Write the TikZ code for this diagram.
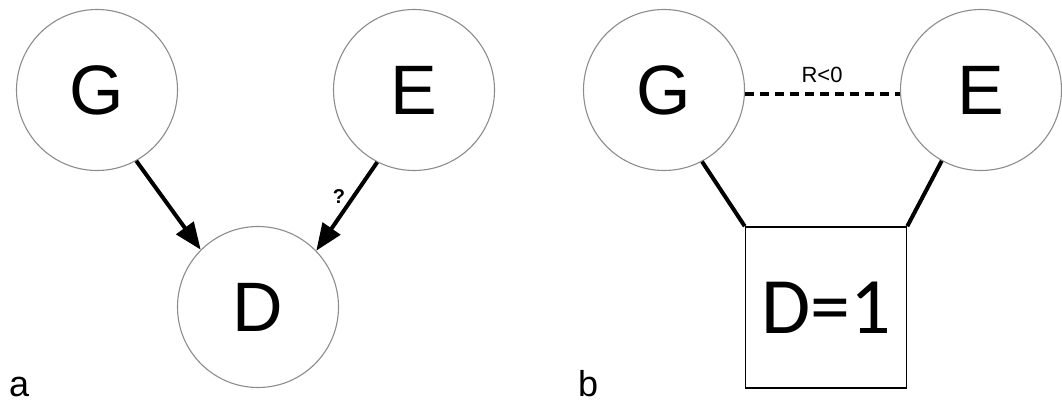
\documentclass[tikz,border=0pt]{standalone}
\usepackage{fontspec}
\setmainfont{Liberation Sans}
\newfontfamily\carl{Carlito}
\usetikzlibrary{arrows.meta}
\definecolor{circgray}{RGB}{140,140,140}
\begin{document}
\begin{tikzpicture}[x=1pt,y=-1pt,
  var/.style={circle,draw=circgray,line width=1.1pt,minimum size=161pt,inner sep=0pt,
    font=\fontsize{70}{70}\selectfont},
  arr/.style={line width=4pt,-{Triangle[length=27pt,width=21pt]}},
  link/.style={line width=4pt},
  panellabel/.style={font=\fontsize{36}{36}\selectfont,anchor=base west,inner sep=0pt}]
\useasboundingbox (0,0) rectangle (1062,404);
% panel a
\node[var] (G) at (97,90) {G};
\node[var] (E) at (414,90) {E};
\node[var] (D) at (258,307) {D};
\draw[arr] (G.-61.5) -- (D.135);
\draw[arr] (E.243) -- (D.44.5);
\node[font=\bfseries\fontsize{20}{20}\selectfont,inner sep=0pt] (q) at (339,197) {?};
\node[panellabel] (la) at (9,396) {a};
% panel b
\node[var] (Gb) at (664,90) {G};
\node[var] (Eb) at (981,90) {E};
\node[draw,line width=1.6pt,minimum width=161pt,minimum height=161pt,inner sep=0pt,
  font=\carl\fontsize{80}{80}\selectfont] (Db) at (826,307.5) {D=1};
\draw[line width=4pt,dash pattern=on 9pt off 6pt] (Gb.-3) -- (Eb.183);
\node[font=\fontsize{22}{22}\selectfont,inner sep=0pt] (r) at (822,75) {R<0};
\draw[link] (Gb.-62) -- (Db.north west);
\draw[link] (Eb.241.5) -- (Db.north east);
\node[panellabel] (lb) at (578,396) {b};
\end{tikzpicture}
\end{document}
